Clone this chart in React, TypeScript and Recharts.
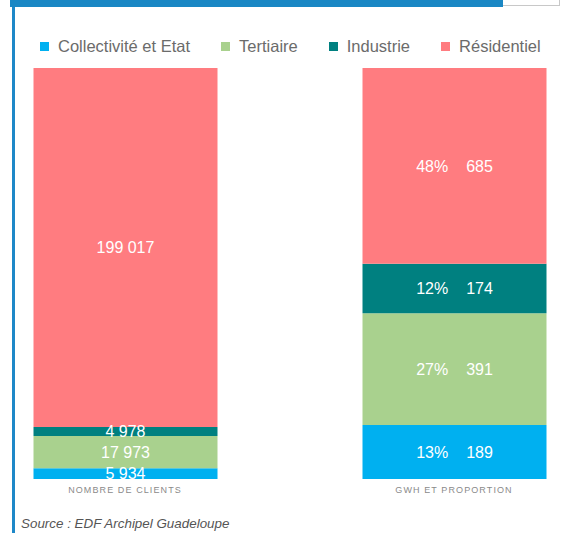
import { BarChart, Bar, XAxis, YAxis, LabelList } from 'recharts'

const categories = ['NOMBRE DE CLIENTS', 'GWH ET PROPORTION']
const collectivite = [5934, 189]
const tertiaire = [17973, 391]
const industrie = [4978, 174]
const residentiel = [199017, 685]

const series = [
  { key: 'collectivite', name: 'Collectivité et Etat', color: '#00b0f0', values: collectivite },
  { key: 'tertiaire', name: 'Tertiaire', color: '#a9d18e', values: tertiaire },
  { key: 'industrie', name: 'Industrie', color: '#008080', values: industrie },
  { key: 'residentiel', name: 'Résidentiel', color: '#ff7c80', values: residentiel },
]

const totals = categories.map((_, i) => series.reduce((s, d) => s + d.values[i], 0))

const data = categories.map((name, i) => {
  const row: Record<string, number | string> = { idx: i, name }
  series.forEach(s => { row[s.key] = s.values[i] })
  return row
})

const FONT = '"Liberation Sans", Arial, Helvetica, sans-serif'
const fmt = (v: number) => v.toLocaleString('en-US').replace(/,/g, ' ')

function makeLabel(clipBottom: boolean, id: string) {
  return (props: any) => {
    const { x, y, width, height, value, index } = props
    const cx = Number(x) + Number(width) / 2
    const cy = Number(y) + Number(height) / 2
    const clipId = `clip-${id}-${index}`
    const common = { fill: '#fff', fontSize: 16, fontFamily: FONT, dominantBaseline: 'central' as const }
    const body = index === 0
      ? <text x={cx} y={cy} textAnchor="middle" {...common}>{fmt(value)}</text>
      : (
        <text x={cx} y={cy} textAnchor="middle" {...common}>
          <tspan>{Math.round((value / totals[index]) * 100)}%</tspan>
          <tspan dx={18}>{fmt(value)}</tspan>
        </text>
      )
    if (!clipBottom) return <g>{body}</g>
    return (
      <g>
        <defs>
          <clipPath id={clipId}>
            <rect x={x} y={Number(y) - 60} width={width} height={Number(height) + 60} />
          </clipPath>
        </defs>
        <g clipPath={`url(#${clipId})`}>{body}</g>
      </g>
    )
  }
}

export default function App() {
  return (
    <div style={{ position: 'absolute', left: 0, top: 0, width: 565, height: 533, overflow: 'hidden', background: '#fff', fontFamily: FONT }}>
      <div style={{ position: 'absolute', left: 10, top: 0, width: 493, height: 7, background: '#1a87c4' }} />
      <div style={{ position: 'absolute', left: 503, top: 0, width: 56, height: 5, borderBottom: '1px solid #c8c8c8', borderRight: '1px solid #c8c8c8' }} />
      <div style={{ position: 'absolute', left: 12, top: 7, width: 2.5, height: 526, background: '#1e88c8' }} />

      <div style={{ position: 'absolute', left: 40, top: 36, display: 'flex', alignItems: 'center', whiteSpace: 'nowrap' }}>
        {series.map(s => (
          <div key={s.key} style={{ display: 'flex', alignItems: 'center', marginRight: 31 }}>
            <span style={{ width: 9, height: 9, background: s.color, display: 'inline-block', marginRight: 9 }} />
            <span style={{ fontSize: 16.5, color: '#6b6b6b', lineHeight: '20px' }}>{s.name}</span>
          </div>
        ))}
      </div>

      <div style={{ position: 'absolute', left: 0, top: 0 }}>
        <BarChart width={565} height={533} data={data} stackOffset="expand"
          margin={{ top: 68, right: 0, bottom: 0, left: 0 }}>
          <XAxis
            type="number"
            dataKey="idx"
            domain={[0, 1]}
            ticks={[0, 1]}
            padding={{ left: 125, right: 111 }}
            tickFormatter={(i: number) => categories[i]}
            tick={{ fill: '#8a8a8a', fontSize: 9, letterSpacing: 1.1, fontFamily: FONT }}
            tickLine={false}
            axisLine={false}
            height={54}
          />
          <YAxis hide domain={[0, 1]} />
          {series.map((s, si) => (
            <Bar key={s.key} dataKey={s.key} name={s.name} stackId="a" fill={s.color}
              barSize={184} isAnimationActive={false}>
              <LabelList dataKey={s.key} content={makeLabel(si === 0, s.key)} />
            </Bar>
          ))}
        </BarChart>
      </div>

      <div style={{ position: 'absolute', left: 21, top: 515, fontSize: 13.4, fontStyle: 'italic', color: '#555', whiteSpace: 'nowrap', lineHeight: '17px' }}>
        Source : EDF Archipel Guadeloupe
      </div>
    </div>
  )
}
